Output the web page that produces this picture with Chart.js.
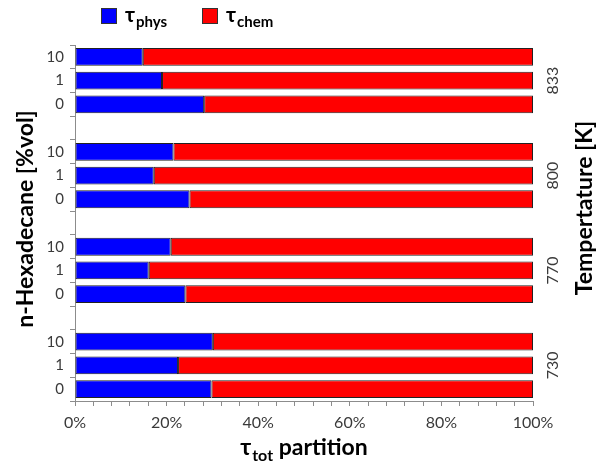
<!DOCTYPE html>
<html>
<head>
<meta charset="utf-8">
<script src="https://cdn.jsdelivr.net/npm/chart.js@4/dist/chart.umd.min.js"></script>
<style>
  html, body { margin: 0; padding: 0; background: #fff; }
  #wrap { width: 599px; height: 463px; position: relative; }
</style>
</head>
<body>
<div id="wrap"><canvas id="c"></canvas></div>
<script>
// Temperature groups, top to bottom, and n-hexadecane blend levels within each group
const temperatures = ['833', '800', '770', '730'];
const hexadecaneLevels = ['10', '1', '0'];

// Physical share of the total ignition delay (%), per blend level 10 / 1 / 0
const physShare833 = [14.8, 19.0, 28.2];
const physShare800 = [21.5, 17.2, 25.0];
const physShare770 = [20.9, 16.1, 24.1];
const physShare730 = [30.1, 22.5, 29.8];

const physByTemperature = [physShare833, physShare800, physShare770, physShare730];

// Category rows: three blend levels per temperature, separated by an empty row
const rowLabels = [];
const physRows = [];
const chemRows = [];
const groupCenterRow = {};
temperatures.forEach((t, gi) => {
  hexadecaneLevels.forEach((lvl, li) => {
    if (li === 1) groupCenterRow[t] = rowLabels.length;
    rowLabels.push(lvl);
    const p = physByTemperature[gi][li];
    physRows.push(p);
    chemRows.push(100 - p);
  });
  if (gi < temperatures.length - 1) {
    rowLabels.push('');
    physRows.push(null);
    chemRows.push(null);
  }
});

const FONT = 'Lato, "Open Sans", sans-serif';
const TEXT = '#3a3a3a';
const AXIS = '#8c8c8c';

// Draws "τ" followed by a subscript, starting at x with baseline y
function drawTau(ctx, x, y, sub, size, subSize) {
  ctx.save();
  ctx.fillStyle = '#000';
  ctx.textBaseline = 'alphabetic';
  ctx.textAlign = 'left';
  ctx.font = 'bold ' + size + 'px ' + FONT;
  const wTau = ctx.measureText('τ').width;
  ctx.fillText('τ', x, y);
  ctx.font = 'bold ' + subSize + 'px ' + FONT;
  const wSub = ctx.measureText(sub).width;
  ctx.fillText(sub, x + wTau + 1, y + subSize * 0.35);
  ctx.restore();
  return wTau + wSub + 1;
}

const annotations = {
  id: 'annotations',
  afterDraw(chart) {
    const ctx = chart.ctx;
    const ys = chart.scales.y;

    // Legend
    const items = [
      { color: 'rgb(0,0,255)', sub: 'phys', x: 101 },
      { color: 'rgb(255,0,0)', sub: 'chem', x: 202 }
    ];
    items.forEach(it => {
      ctx.save();
      ctx.fillStyle = it.color;
      ctx.fillRect(it.x + 0.5, 8.5, 15, 15);
      ctx.strokeStyle = '#333';
      ctx.lineWidth = 1;
      ctx.strokeRect(it.x + 0.5, 8.5, 15, 15);
      ctx.restore();
      drawTau(ctx, it.x + 24, 22, it.sub, 21, 15);
    });

    // Left axis title
    ctx.save();
    ctx.translate(26, 219);
    ctx.rotate(-Math.PI / 2);
    ctx.font = 'bold 23px ' + FONT;
    ctx.fillStyle = '#000';
    ctx.textAlign = 'center';
    ctx.textBaseline = 'middle';
    ctx.fillText('n-Hexadecane [%vol]', 0, 0);
    ctx.restore();

    // Temperature labels on the right, centred on each group
    temperatures.forEach(t => {
      const y = ys.getPixelForValue(groupCenterRow[t]);
      ctx.save();
      ctx.translate(553, y);
      ctx.rotate(-Math.PI / 2);
      ctx.font = '16px ' + FONT;
      ctx.fillStyle = TEXT;
      ctx.textAlign = 'center';
      ctx.textBaseline = 'middle';
      ctx.fillText(t, 0, 0);
      ctx.restore();
    });

    // Right axis title
    ctx.save();
    ctx.translate(585, 208);
    ctx.rotate(-Math.PI / 2);
    ctx.font = 'bold 23px ' + FONT;
    ctx.fillStyle = '#000';
    ctx.textAlign = 'center';
    ctx.textBaseline = 'middle';
    ctx.fillText('Tempertature [K]', 0, 0);
    ctx.restore();

    // Bottom axis title: τ_tot partition
    ctx.save();
    ctx.font = 'bold 23px ' + FONT;
    const wWord = ctx.measureText(' partition').width;
    const wTau = ctx.measureText('τ').width;
    ctx.font = 'bold 16px ' + FONT;
    const wSub = ctx.measureText('tot').width;
    const total = wTau + 1 + wSub + wWord;
    const x0 = (chart.chartArea.left + chart.chartArea.right) / 2 - total / 2;
    const w = drawTau(ctx, x0, 455, 'tot', 23, 16);
    ctx.font = 'bold 23px ' + FONT;
    ctx.fillStyle = '#000';
    ctx.textAlign = 'left';
    ctx.fillText(' partition', x0 + w, 455);
    ctx.restore();
  }
};

new Chart(document.getElementById('c'), {
  type: 'bar',
  data: {
    labels: rowLabels,
    datasets: [
      {
        label: 'τphys',
        data: physRows,
        backgroundColor: 'rgb(0,0,255)',
        borderColor: '#222',
        borderWidth: 1,
        borderSkipped: false
      },
      {
        label: 'τchem',
        data: chemRows,
        backgroundColor: 'rgb(255,0,0)',
        borderColor: '#222',
        borderWidth: 1,
        borderSkipped: false
      }
    ]
  },
  options: {
    indexAxis: 'y',
    responsive: true,
    maintainAspectRatio: false,
    animation: false,
    datasets: { bar: { barPercentage: 0.75, categoryPercentage: 1 } },
    layout: { padding: { top: 45, right: 66, left: 0, bottom: 0 } },
    plugins: {
      legend: { display: false },
      tooltip: { enabled: false }
    },
    scales: {
      x: {
        stacked: true,
        min: 0,
        max: 100,
        afterFit(s) { s.height = 62; },
        border: { display: true, color: AXIS, width: 1 },
        grid: { drawOnChartArea: false, drawTicks: true, tickLength: 5, color: AXIS },
        ticks: {
          stepSize: 4,
          autoSkip: false,
          maxRotation: 0,
          padding: 7,
          color: TEXT,
          font: { family: FONT, size: 16 },
          callback: v => (v % 20 === 0 ? v + '%' : '')
        }
      },
      y: {
        stacked: true,
        afterFit(s) { s.width = 75; },
        border: { display: true, color: AXIS, width: 1 },
        grid: { drawOnChartArea: false, drawTicks: true, tickLength: 5, color: AXIS, offset: true },
        ticks: {
          autoSkip: false,
          padding: 6,
          color: TEXT,
          font: { family: FONT, size: 15 }
        }
      }
    }
  },
  plugins: [annotations]
});
</script>
</body>
</html>
